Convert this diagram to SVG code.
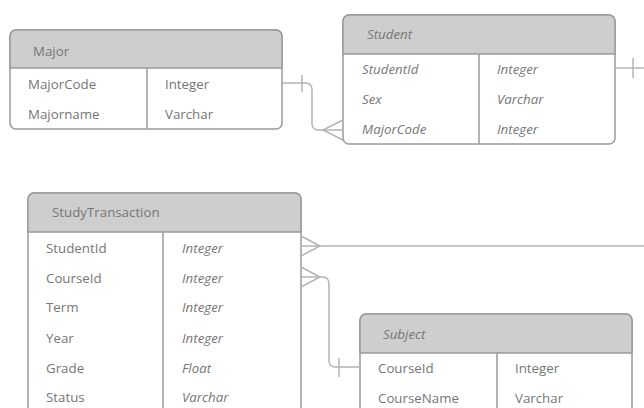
<svg xmlns="http://www.w3.org/2000/svg" width="644" height="408" viewBox="0 0 644 408">
  <style>
    .frame { fill: #ffffff; stroke: #9a9a9a; stroke-width: 1.5; }
    .head { fill: #cecece; stroke: #9a9a9a; stroke-width: 1.5; }
    .div { stroke: #9a9a9a; stroke-width: 1.5; }
    .link { fill: none; stroke: #b4b4b4; stroke-width: 1.5; }
    text { font-family: "Open Sans", "Liberation Sans", sans-serif; font-size: 13.3px; fill: #767676; }
    .it { font-style: italic; }
  </style>

  <!-- Major -->
  <g id="major">
    <rect class="frame" x="10" y="30" width="272" height="99" rx="6"/>
    <path class="head" d="M10,68 V36 A6,6 0 0 1 16,30 H276 A6,6 0 0 1 282,36 V68 Z"/>
    <line class="div" x1="147" y1="68" x2="147" y2="129"/>
    <text x="33" y="56">Major</text>
    <text x="28" y="89">MajorCode</text>
    <text x="165" y="89">Integer</text>
    <text x="28" y="119">Majorname</text>
    <text x="165" y="119">Varchar</text>
  </g>

  <!-- Student -->
  <g id="student">
    <rect class="frame" x="343" y="15" width="272" height="129" rx="6"/>
    <path class="head" d="M343,54 V21 A6,6 0 0 1 349,15 H609 A6,6 0 0 1 615,21 V54 Z"/>
    <line class="div" x1="479" y1="54" x2="479" y2="144"/>
    <text class="it" x="367" y="39">Student</text>
    <text class="it" x="362" y="74">StudentId</text>
    <text class="it" x="497" y="74">Integer</text>
    <text class="it" x="362" y="104">Sex</text>
    <text class="it" x="497" y="104">Varchar</text>
    <text class="it" x="362" y="134">MajorCode</text>
    <text class="it" x="497" y="134">Integer</text>
  </g>

  <!-- StudyTransaction -->
  <g id="study-transaction">
    <rect class="frame" x="28" y="193" width="273" height="230" rx="6"/>
    <path class="head" d="M28,232 V199 A6,6 0 0 1 34,193 H295 A6,6 0 0 1 301,199 V232 Z"/>
    <line class="div" x1="163" y1="232" x2="163" y2="423"/>
    <text x="52" y="217">StudyTransaction</text>
    <text x="46" y="253">StudentId</text>
    <text class="it" x="182" y="253">Integer</text>
    <text x="46" y="283">CourseId</text>
    <text class="it" x="182" y="283">Integer</text>
    <text x="46" y="312">Term</text>
    <text class="it" x="182" y="312">Integer</text>
    <text x="46" y="343">Year</text>
    <text class="it" x="182" y="343">Integer</text>
    <text x="46" y="373">Grade</text>
    <text class="it" x="182" y="373">Float</text>
    <text x="46" y="402">Status</text>
    <text class="it" x="182" y="402">Varchar</text>
  </g>

  <!-- Subject -->
  <g id="subject">
    <rect class="frame" x="360" y="314" width="272" height="110" rx="6"/>
    <path class="head" d="M360,353 V320 A6,6 0 0 1 366,314 H626 A6,6 0 0 1 632,320 V353 Z"/>
    <line class="div" x1="497" y1="353" x2="497" y2="424"/>
    <text class="it" x="383" y="339">Subject</text>
    <text x="378" y="373">CourseId</text>
    <text x="515" y="373">Integer</text>
    <text x="378" y="403">CourseName</text>
    <text x="515" y="403">Varchar</text>
  </g>

  <!-- Relationships -->
  <g id="connectors">
    <!-- Major.MajorCode (one) to Student.MajorCode (many) -->
    <path class="link" d="M282,83 H306 A6,6 0 0 1 312,89 V124 A6,6 0 0 0 318,130 H343"/>
    <line class="link" x1="302" y1="75" x2="302" y2="92"/>
    <path class="link" d="M343,120 L323,130 L343,140"/>

    <!-- Student.StudentId (one) onward -->
    <line class="link" x1="615" y1="68" x2="644" y2="68"/>
    <line class="link" x1="633" y1="58" x2="633" y2="78"/>

    <!-- StudyTransaction.StudentId (many) -->
    <line class="link" x1="301" y1="246" x2="644" y2="246"/>
    <path class="link" d="M301,236 L320,246 L301,256"/>

    <!-- StudyTransaction.CourseId (many) to Subject.CourseId (one) -->
    <path class="link" d="M301,277 H323 A6,6 0 0 1 329,283 V361 A6,6 0 0 0 335,367 H360"/>
    <path class="link" d="M301,267 L320,277 L301,287"/>
    <line class="link" x1="339" y1="358" x2="339" y2="377"/>
  </g>
</svg>
